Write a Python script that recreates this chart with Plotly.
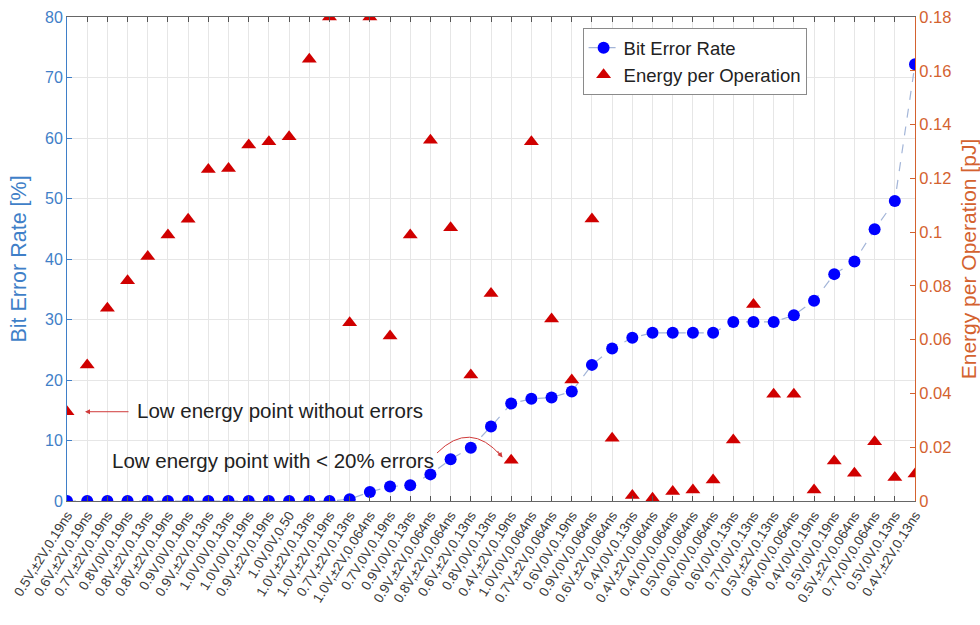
import plotly.graph_objects as go

labels = [
    "0.5V,±2V,0.19ns", "0.6V,±2V,0.19ns", "0.7V,±2V,0.19ns", "0.8V,0V,0.19ns",
    "0.8V,±2V,0.13ns", "0.8V,±2V,0.19ns", "0.9V,0V,0.19ns", "0.9V,±2V,0.13ns",
    "1.0V,0V,0.13ns", "1.0V,0V,0.19ns", "0.9V,±2V,0.19ns", "1.0V,0V,0.50",
    "1.0V,±2V,0.13ns", "1.0V,±2V,0.19ns", "0.7V,±2V,0.13ns", "1.0V,±2V,0.064ns",
    "0.7V,0V,0.19ns", "0.9V,0V,0.13ns", "0.9V,±2V,0.064ns", "0.8V,±2V,0.064ns",
    "0.6V,±2V,0.13ns", "0.8V,0V,0.13ns", "0.4V,±2V,0.19ns", "1.0V,0V,0.064ns",
    "0.7V,±2V,0.064ns", "0.6V,0V,0.19ns", "0.9V,0V,0.064ns", "0.6V,±2V,0.064ns",
    "0.4V,0V,0.13ns", "0.4V,±2V,0.064ns", "0.4V,0V,0.064ns", "0.5V,0V,0.064ns",
    "0.6V,0V,0.064ns", "0.6V,0V,0.13ns", "0.7V,0V,0.13ns", "0.5V,±2V,0.13ns",
    "0.8V,0V,0.064ns", "0.4V,0V,0.19ns", "0.5V,0V,0.19ns", "0.5V,±2V,0.064ns",
    "0.7V,0V,0.064ns", "0.5V,0V,0.13ns", "0.4V,±2V,0.13ns",
]

bit_error_rate = [
    0, 0, 0, 0, 0, 0, 0, 0, 0, 0, 0, 0, 0, 0, 0.3,
    1.5, 2.4, 2.6, 4.4, 6.9, 8.8, 12.3, 16.1, 16.9, 17.1, 18.1, 22.5, 25.2,
    27.0, 27.8, 27.8, 27.8, 27.8, 29.6, 29.6, 29.6, 30.7, 33.1, 37.5, 39.6,
    44.9, 49.6, 72.2,
]

energy_per_op = [
    0.0332, 0.0506, 0.0717, 0.0819, 0.0909, 0.0989, 0.1048, 0.1233, 0.1237,
    0.1324, 0.1336, 0.1355, 0.1643, 0.18, 0.0663, 0.18, 0.0614, 0.0989,
    0.1342, 0.1016, 0.0469, 0.0772, 0.0152, 0.1336, 0.0677, 0.0450, 0.1049,
    0.0233, 0.0020, 0.0010, 0.0035, 0.0041, 0.0078, 0.0227, 0.0731, 0.0397,
    0.0397, 0.0041, 0.0149, 0.0103, 0.0220, 0.0087, 0.0100,
]

left_ticks = [0, 10, 20, 30, 40, 50, 60, 70, 80]
right_ticks = [0, 0.02, 0.04, 0.06, 0.08, 0.1, 0.12, 0.14, 0.16, 0.18]

BLUE_AX = "#3f7fc8"
ORANGE_AX = "#d4622f"
FONT = "Liberation Sans, Arial, Helvetica, sans-serif"

fig = go.Figure()
fig.add_trace(go.Scatter(
    x=labels, y=bit_error_rate, name="Bit Error Rate", yaxis="y",
    mode="lines+markers",
    line=dict(color="#a3b5d8", width=1.2, dash="dash"),
    marker=dict(symbol="circle", size=12, color="#0000ff", line=dict(width=0)),
))
fig.add_trace(go.Scatter(
    x=labels, y=energy_per_op, name="Energy per Operation", yaxis="y2",
    mode="markers",
    marker=dict(symbol="triangle-up", size=13, color="#d00000", line=dict(width=0)),
))

fig.update_layout(
    width=980, height=625,
    margin=dict(l=67, r=65, t=17, b=124, autoexpand=False),
    paper_bgcolor="white", plot_bgcolor="white",
    font=dict(family=FONT, size=16, color="#333333"),
    showlegend=True,
    legend=dict(
        x=0.608, y=0.977, xanchor="left", yanchor="top",
        bgcolor="white", bordercolor="#8a8a8a", borderwidth=1,
        font=dict(size=18.5, color="#222222"),
        tracegroupgap=0, itemwidth=30,
    ),
    xaxis=dict(
        type="category", categoryorder="array", categoryarray=labels,
        range=[0, len(labels) - 1],
        tickangle=-58, tickfont=dict(size=13.5, color="#3a3a3a"),
        ticks="inside", ticklen=5, tickcolor="#555555",
        showline=True, linecolor="#666666", linewidth=1, mirror="ticks",
        showgrid=True, gridcolor="#e6e6e6", gridwidth=1,
        zeroline=False, automargin=False,
    ),
    yaxis=dict(
        range=[0, 80], tickvals=left_ticks,
        title=dict(text="Bit Error Rate [%]", font=dict(size=21.5, color=BLUE_AX), standoff=12),
        tickfont=dict(size=16, color=BLUE_AX),
        ticks="inside", ticklen=5, tickcolor=BLUE_AX,
        showline=True, linecolor=BLUE_AX, linewidth=1,
        showgrid=True, gridcolor="#e6e6e6", gridwidth=1,
        zeroline=False, automargin=False,
    ),
    yaxis2=dict(
        range=[0, 0.18], tickvals=right_ticks,
        ticktext=[("%g" % v) for v in right_ticks],
        overlaying="y", side="right", anchor="x",
        title=dict(text="Energy per Operation [pJ]", font=dict(size=21, color=ORANGE_AX), standoff=10),
        tickfont=dict(size=16.5, color=ORANGE_AX),
        ticks="inside", ticklen=5, tickcolor=ORANGE_AX,
        showline=True, linecolor=ORANGE_AX, linewidth=1,
        showgrid=False, zeroline=False, automargin=False,
    ),
)

# Annotation 1: arrow to the first (low energy, no error) point
fig.add_annotation(
    x=labels[0], y=energy_per_op[0], xref="x", yref="y2",
    ax=63, ay=0, axref="pixel", ayref="pixel",
    text="", showarrow=True, arrowhead=2, arrowsize=1, arrowwidth=1,
    arrowcolor="#d03a3a", standoff=18,
)
fig.add_annotation(
    x=0.080, y=0.188, xref="paper", yref="paper",
    xanchor="left", yanchor="middle", showarrow=False,
    text="Low energy point without errors",
    font=dict(size=20.5, color="#222222"),
)

# Annotation 2: curved arrow to the low-energy point with < 20% errors
fig.add_annotation(
    x=0.051, y=0.0847, xref="paper", yref="paper",
    xanchor="left", yanchor="middle", showarrow=False,
    text="Low energy point with &lt; 20% errors",
    font=dict(size=20.5, color="#222222"),
)
fig.add_shape(
    type="path", xref="paper", yref="paper",
    path="M 0.4363,0.0992 Q 0.4752,0.1674 0.5120,0.0930",
    line=dict(color="#d03a3a", width=1),
)
fig.add_annotation(
    x=0.5135, y=0.0900, xref="paper", yref="paper",
    ax=-6, ay=-8, axref="pixel", ayref="pixel",
    text="", showarrow=True, arrowhead=2, arrowsize=1, arrowwidth=1,
    arrowcolor="#d03a3a",
)

fig.write_html(
    "out.html",
    config={"displayModeBar": False},
    post_script="document.body.style.margin='0';document.body.style.padding='0';"
                "document.body.style.overflow='hidden';",
)
